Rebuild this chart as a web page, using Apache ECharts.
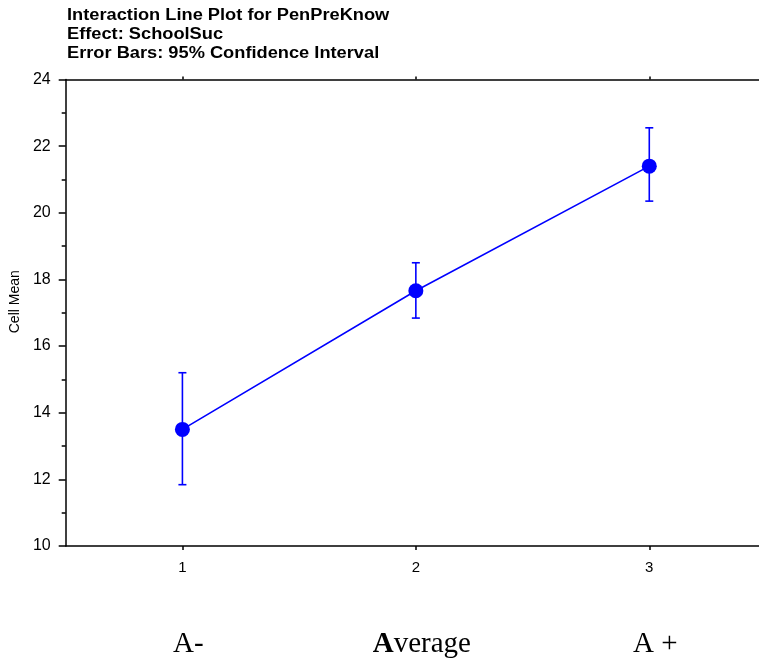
<!DOCTYPE html>
<html>
<head>
<meta charset="utf-8">
<script src="https://cdn.jsdelivr.net/npm/echarts@6/dist/echarts.min.js"></script>
<style>
  html, body { margin: 0; padding: 0; background: #fff; }
  #chart { width: 759px; height: 660px; }
</style>
</head>
<body>
<div id="chart"></div>
<script>
// SchoolSuc levels and the PenPreKnow cell means with 95% CI bounds
const levels = [1, 2, 3];
const levelNames = ['A-', 'Average', 'A +'];
const cellMeans = [13.50, 17.66, 21.40];
const ciLower = [11.84, 16.84, 20.35];
const ciUpper = [15.20, 18.50, 22.55];
const yTicks = [10, 12, 14, 16, 18, 20, 22, 24];
const titleLines = [
  'Interaction Line Plot for PenPreKnow',
  'Effect: SchoolSuc',
  'Error Bars: 95% Confidence Interval'
];

const blue = '#0000ff';
const axisFont = 'Arial, "Liberation Sans", sans-serif';
const serifFont = '"Liberation Serif", "DejaVu Serif", serif';

const chart = echarts.init(document.getElementById('chart'), null, { renderer: 'canvas' });

const linePoints = levels.map((x, i) => [x, cellMeans[i]]);
const errorData = levels.map((x, i) => [x, ciLower[i], ciUpper[i]]);

// x runs from 0.5 and is cut at the right edge of the page
const xMin = 0.5;
const xMax = 3.47;

chart.setOption({
  animation: false,
  backgroundColor: '#ffffff',
  graphic: [
    {
      // three-line heading, set slightly wide
      type: 'text',
      x: 67,
      y: 6,
      scaleX: 1.14,
      style: {
        text: titleLines.join('\n'),
        x: 0,
        y: 0,
        font: 'bold 16px Arial, "Liberation Sans", sans-serif',
        lineHeight: 19,
        fill: '#000',
        verticalAlign: 'top',
        align: 'left'
      }
    }
  ],
  grid: { left: 64.5, top: 79.5, right: 0, height: 466.5, containLabel: false },
  xAxis: [
    {
      type: 'value',
      min: xMin,
      max: xMax,
      position: 'bottom',
      splitLine: { show: false },
      axisLine: { lineStyle: { color: '#000', width: 1.5 } },
      axisTick: {
        show: true, length: 4, inside: false,
        customValues: levels,
        lineStyle: { color: '#000', width: 1.5 }
      },
      axisLabel: {
        customValues: levels,
        margin: 14,
        fontFamily: axisFont,
        fontSize: 15,
        color: '#000'
      }
    },
    {
      type: 'value',
      min: xMin,
      max: xMax,
      position: 'top',
      splitLine: { show: false },
      axisLine: { lineStyle: { color: '#000', width: 1.5 } },
      axisTick: {
        show: true, length: 3, inside: false,
        customValues: levels,
        lineStyle: { color: '#000', width: 1.5 }
      },
      axisLabel: { show: false }
    },
    {
      // group names under the numbered levels
      type: 'value',
      min: xMin,
      max: xMax,
      position: 'bottom',
      offset: 76,
      splitLine: { show: false },
      axisLine: { show: false },
      axisTick: { show: false },
      axisLabel: {
        customValues: levels,
        margin: 8,
        padding: [0, 0, 0, 12],
        fontFamily: serifFont,
        fontSize: 29,
        color: '#000',
        formatter: function (v) {
          const name = levelNames[levels.indexOf(v)];
          if (name === 'Average') return '{b|A}verage';
          return name;
        },
        rich: {
          b: {
            fontFamily: serifFont,
            fontSize: 29,
            fontWeight: 'bold',
            color: '#000'
          }
        }
      }
    }
  ],
  yAxis: {
    type: 'value',
    min: 10,
    max: 24,
    interval: 2,
    name: 'Cell Mean',
    nameLocation: 'middle',
    nameRotate: 90,
    nameGap: 38,
    nameTextStyle: {
      fontFamily: axisFont,
      fontSize: 14,
      color: '#000',
      padding: [0, 0, 0, 22]
    },
    splitLine: { show: false },
    axisLine: { show: true, lineStyle: { color: '#000', width: 1.5 } },
    axisTick: { show: true, length: 7, inside: false, lineStyle: { color: '#000', width: 1.5 } },
    minorTick: { show: true, splitNumber: 2, length: 4, lineStyle: { color: '#000', width: 1.5 } },
    axisLabel: {
      margin: 15,
      fontFamily: axisFont,
      fontSize: 16,
      color: '#000',
      formatter: function (v) { return yTicks.indexOf(v) >= 0 ? String(v) : ''; }
    }
  },
  series: [
    {
      type: 'custom',
      name: '95% CI',
      xAxisIndex: 0,
      data: errorData,
      z: 3,
      renderItem: function (params, api) {
        const x = api.value(0);
        const lo = api.coord([x, api.value(1)]);
        const hi = api.coord([x, api.value(2)]);
        const half = 4;
        const style = { stroke: blue, lineWidth: 1.6 };
        return {
          type: 'group',
          children: [
            { type: 'line', shape: { x1: lo[0], y1: lo[1], x2: hi[0], y2: hi[1] }, style: style },
            { type: 'line', shape: { x1: lo[0] - half, y1: lo[1], x2: lo[0] + half, y2: lo[1] }, style: style },
            { type: 'line', shape: { x1: hi[0] - half, y1: hi[1], x2: hi[0] + half, y2: hi[1] }, style: style }
          ]
        };
      }
    },
    {
      type: 'line',
      name: 'Cell Mean',
      xAxisIndex: 0,
      data: linePoints,
      z: 4,
      symbol: 'circle',
      symbolSize: 15,
      lineStyle: { color: blue, width: 1.6 },
      itemStyle: { color: blue }
    }
  ]
});
</script>
</body>
</html>
